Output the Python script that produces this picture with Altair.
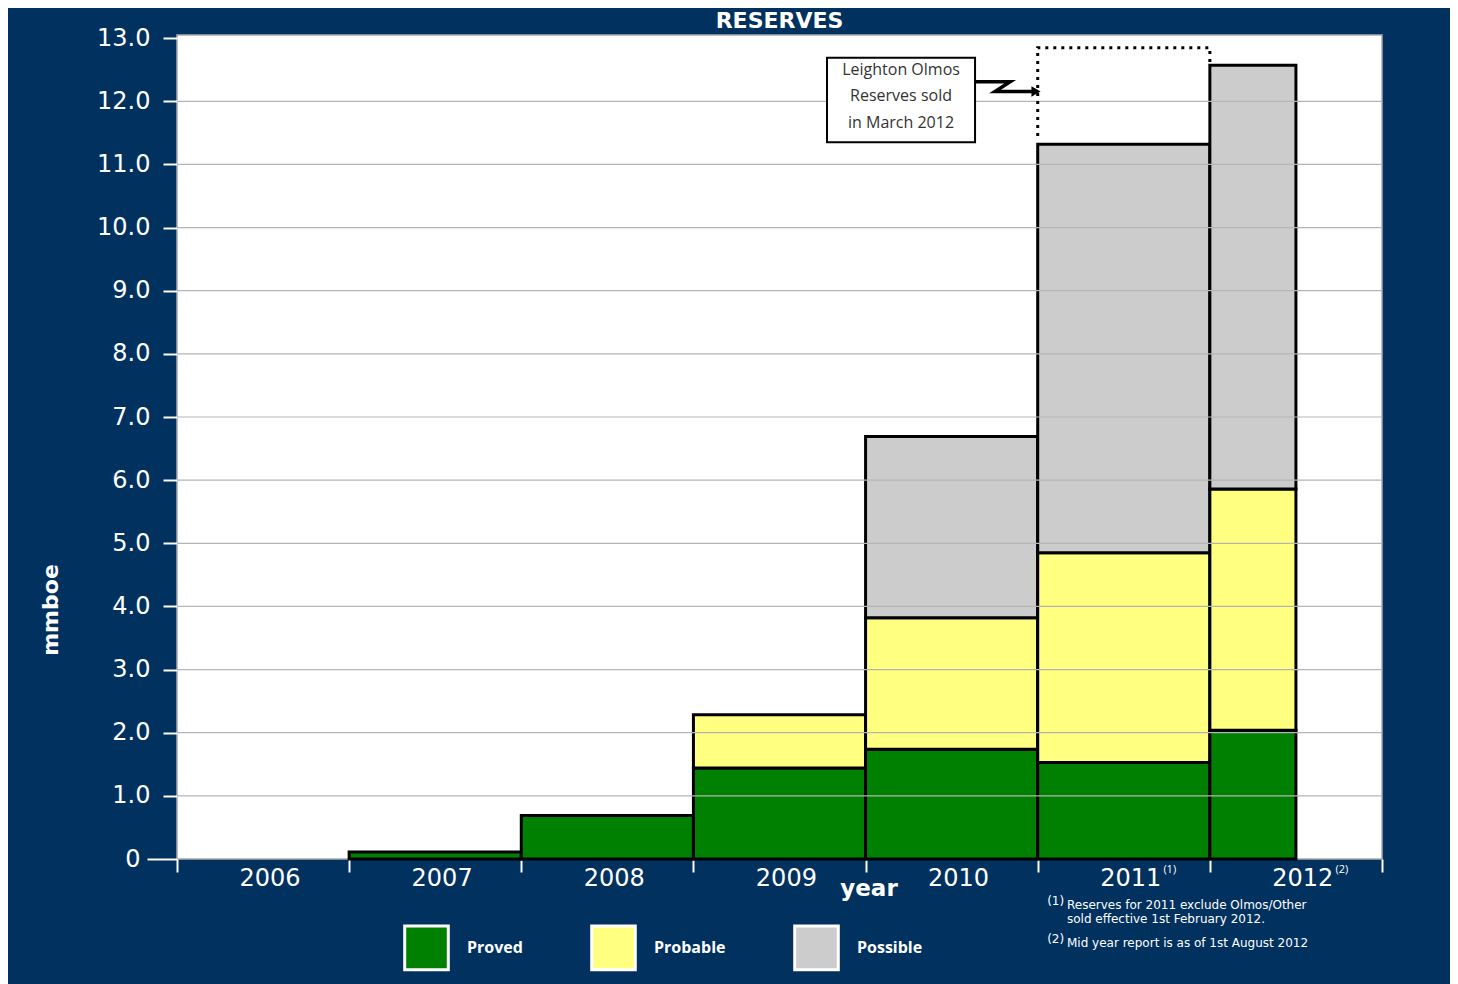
import altair as alt
import pandas as pd

# ---------------- data ----------------
years = ["2006", "2007", "2008", "2009", "2010", "2011", "2012"]
bar_span = [1, 1, 1, 1, 1, 1, 0.5]
proved = [0.0, 0.11, 0.69, 1.44, 1.74, 1.53, 2.04]
probable = [0.0, 0.0, 0.0, 0.845, 2.08, 3.32, 3.82]
possible = [0.0, 0.0, 0.0, 0.0, 2.87, 6.47, 6.71]
categories = ["Proved", "Probable", "Possible"]
colors = ["#008000", "#ffff80", "#cccccc"]
y_ticks = [0, 1, 2, 3, 4, 5, 6, 7, 8, 9, 10, 11, 12, 13]
year_superscripts = {"2011": "(1)", "2012": "(2)"}

# annotation (in data units: x = year index, y = mmboe)
sold_box_x = [3.776, 4.636]
sold_box_y = [11.35, 12.69]
sold_text = ["Leighton Olmos", "Reserves sold", "in March 2012"]
sold_text_y = [12.49, 12.08, 11.66]
arrow_x = [4.636, 4.84, 4.752, 4.99]
arrow_y = [12.31, 12.31, 12.155, 12.155]
dotted_x = [5.0, 5.0, 6.0, 6.0]
dotted_y = [11.45, 12.85, 12.85, 12.62]

footnotes = ["Reserves for 2011 exclude Olmos/Other",
             "sold effective 1st February 2012.",
             "Mid year report is as of 1st August 2012"]

W, H = 1205, 824
FONT = "DejaVu Sans"
FONT2 = "Open Sans"
NAVY = "#01315f"

# ---------------- tables ----------------
rows = []
for i, yr in enumerate(years):
    base = 0.0
    for cat, vals in zip(categories, [proved, probable, possible]):
        v = vals[i]
        if v > 0:
            rows.append({"year": yr, "x0": i, "x1": i + bar_span[i],
                         "cat": cat, "y0": base, "y1": base + v})
        base += v
bars_df = pd.DataFrame(rows)

xs = alt.Scale(domain=[0, 7], nice=False, zero=False)
ys = alt.Scale(domain=[0, 13.05], nice=False)

bars = alt.Chart(bars_df).mark_bar(stroke="black", strokeWidth=3).encode(
    x=alt.X("x0:Q", scale=xs,
            axis=alt.Axis(values=list(range(8)), labels=False, domain=False,
                          grid=False, title=None, tickColor="white",
                          tickWidth=2, tickSize=13)),
    x2="x1:Q",
    y=alt.Y("y0:Q", scale=ys,
            axis=alt.Axis(values=y_ticks, grid=False, domain=False,
                          tickColor="white", tickWidth=2,
                          tickSize={"condition": {"test": "datum.value == 0", "value": 30}, "value": 14},
                          labelPadding={"condition": {"test": "datum.value == 0", "value": 7}, "value": 13},
                          labelColor="white", labelFontSize=24,
                          labelFont=FONT, title=None,
                          labelExpr="datum.value == 0 ? '0' : format(datum.value, '.1f')")),
    y2="y1:Q",
    color=alt.Color("cat:N",
                    scale=alt.Scale(domain=categories, range=colors),
                    legend=alt.Legend(title=None, orient="none", direction="horizontal",
                                      legendX=226, legendY=889,
                                      symbolType="square", symbolSize=1900,
                                      symbolStrokeColor="white", symbolStrokeWidth=3,
                                      symbolOpacity=1,
                                      labelColor="white", labelFontSize=16,
                                      labelFontWeight="bold", labelFont=FONT2,
                                      labelOffset=17, columnPadding=62)),
)

grid = alt.Chart(pd.DataFrame({"v": y_ticks[1:-1]})).mark_rule(
    color="#b5b5b5", strokeWidth=1.2).encode(y=alt.Y("v:Q", scale=ys))

dotted = alt.Chart(pd.DataFrame({"x": dotted_x, "y": dotted_y,
                                 "o": list(range(len(dotted_x)))})).mark_line(
    color="black", strokeWidth=3, strokeDash=[3, 5]).encode(
    x=alt.X("x:Q", scale=xs), y=alt.Y("y:Q", scale=ys), order="o:Q")

box = alt.Chart(pd.DataFrame({"x0": [sold_box_x[0]], "x1": [sold_box_x[1]],
                              "y0": [sold_box_y[0]], "y1": [sold_box_y[1]]})).mark_rect(
    fill="white", stroke="black", strokeWidth=2).encode(
    x=alt.X("x0:Q", scale=xs), x2="x1:Q", y=alt.Y("y0:Q", scale=ys), y2="y1:Q")

box_text = alt.Chart(pd.DataFrame({"t": sold_text, "y": sold_text_y,
                                   "x": [sum(sold_box_x) / 2] * 3})).mark_text(
    fontSize=16, font=FONT2, color="#333333").encode(
    x=alt.X("x:Q", scale=xs), y=alt.Y("y:Q", scale=ys), text="t:N")

arrow = alt.Chart(pd.DataFrame({"x": arrow_x, "y": arrow_y,
                                "o": list(range(len(arrow_x)))})).mark_line(
    color="black", strokeWidth=3.5).encode(
    x=alt.X("x:Q", scale=xs), y=alt.Y("y:Q", scale=ys), order="o:Q")

arrow_head = alt.Chart(pd.DataFrame({"x": [arrow_x[-1]], "y": [arrow_y[-1]]})).mark_point(
    shape="triangle-right", filled=True, color="black", size=110, opacity=1).encode(
    x=alt.X("x:Q", scale=xs), y=alt.Y("y:Q", scale=ys))

year_df = pd.DataFrame({"year": years, "x": [i + 0.54 for i in range(len(years))]})
year_labels = alt.Chart(year_df).mark_text(
    fontSize=24, font=FONT, color="white", baseline="middle").encode(
    x=alt.X("x:Q", scale=xs), y=alt.value(H + 20), text="year:N")

sup_df = pd.DataFrame({"t": list(year_superscripts.values()),
                       "x": [years.index(k) + 0.73 for k in year_superscripts]})
sups = alt.Chart(sup_df).mark_text(
    fontSize=11, font=FONT2, color="white", align="left", baseline="middle").encode(
    x=alt.X("x:Q", scale=xs), y=alt.value(H + 11), text="t:N")

year_title = alt.Chart(pd.DataFrame({"t": ["year"], "x": [4.02]})).mark_text(
    fontSize=23, font=FONT, fontWeight="bold", color="white", baseline="middle").encode(
    x=alt.X("x:Q", scale=xs), y=alt.value(H + 30), text="t:N")

y_title = alt.Chart(pd.DataFrame({"t": ["mmboe"]})).mark_text(
    fontSize=22, font=FONT, fontWeight="bold", color="white", angle=270,
    baseline="middle").encode(
    x=alt.value(-126), y=alt.value(575), text="t:N")

title_mark = alt.Chart(pd.DataFrame({"t": ["RESERVES"], "x": [3.5]})).mark_text(
    fontSize=22, font=FONT, fontWeight="bold", color="white", baseline="middle").encode(
    x=alt.X("x:Q", scale=xs), y=alt.value(-14), text="t:N")

fn_df = pd.DataFrame({"t": footnotes, "x": [5.17, 5.17, 5.17],
                      "py": [H + 46, H + 60, H + 84]})
fn_text = alt.Chart(fn_df).mark_text(
    fontSize=12, font=FONT, color="white", align="left", baseline="middle").encode(
    x=alt.X("x:Q", scale=xs), y=alt.Y("py:Q", scale=None), text="t:N")

fn_sup_df = pd.DataFrame({"t": ["(1)", "(2)"], "x": [5.055, 5.055],
                          "py": [H + 42, H + 80]})
fn_sup = alt.Chart(fn_sup_df).mark_text(
    fontSize=12, font=FONT, color="white", align="left", baseline="middle").encode(
    x=alt.X("x:Q", scale=xs), y=alt.Y("py:Q", scale=None), text="t:N")

chart = alt.layer(
    bars, grid, dotted, box, box_text, arrow, arrow_head,
    year_labels, sups, year_title, y_title, title_mark, fn_text, fn_sup
).properties(
    width=W, height=H,
    autosize=alt.AutoSizeParams(type="none"),
    padding={"left": 169, "top": 27, "right": 68, "bottom": 125},
    background=NAVY,
).configure_view(
    fill="white", stroke="#aaaaaa", strokeWidth=1.5
)

chart.save("out.html", embed_options={"renderer": "svg", "actions": False})
